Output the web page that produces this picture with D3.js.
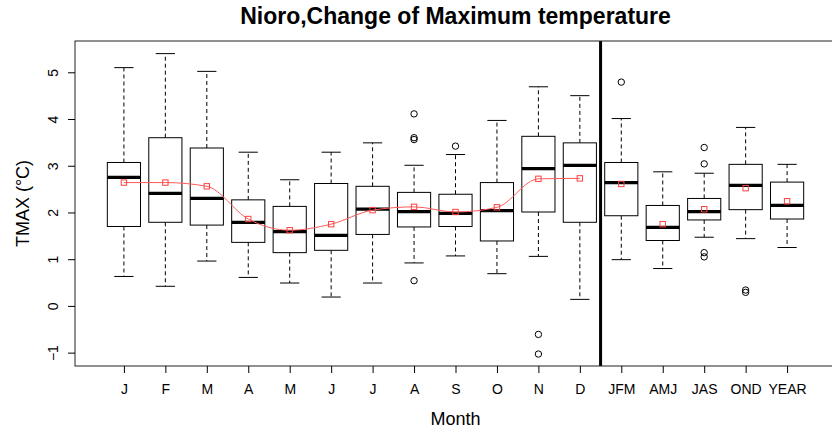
<!DOCTYPE html>
<html>
<head>
<meta charset="utf-8">
<script src="https://cdn.jsdelivr.net/npm/d3@7"></script>
<style>
  body { margin: 0; background: #fff; }
  text { font-family: "Liberation Sans", Arial, sans-serif; fill: #000; }
</style>
</head>
<body>
<script>
// chart values
const labels   = ['J','F','M','A','M','J','J','A','S','O','N','D','JFM','AMJ','JAS','OND','YEAR']
const whiskLo  = [0.63,0.42,0.96,0.61,0.49,0.19,0.49,0.92,1.07,0.69,1.06,0.14,0.99,0.80,1.47,1.44,1.25]
const q1       = [1.70,1.79,1.73,1.36,1.14,1.19,1.53,1.69,1.70,1.39,2.01,1.79,1.93,1.40,1.84,2.06,1.86]
const medians  = [2.75,2.41,2.30,1.79,1.59,1.51,2.07,2.02,1.98,2.04,2.94,3.01,2.64,1.68,2.02,2.58,2.15]
const q3       = [3.07,3.60,3.38,2.27,2.13,2.62,2.56,2.43,2.39,2.64,3.63,3.49,3.07,2.15,2.30,3.03,2.65]
const whiskHi  = [5.10,5.40,5.02,3.29,2.70,3.29,3.49,3.01,3.24,3.97,4.69,4.50,4.01,2.87,2.84,3.82,3.03]
const means    = [2.64,2.64,2.56,1.86,1.62,1.75,2.05,2.12,2.01,2.11,2.72,2.73,2.61,1.75,2.07,2.52,2.24]
const outliers = [[],[],[],[],[],[],[],[4.11,3.60,3.56,0.54],[3.42],[],[-0.61,-1.03],[],
                  [4.79],[],[3.39,3.04,1.14,1.05],[0.34,0.29],[]]
const yTicks   = [-1,0,1,2,3,4,5]

const W = 832, H = 431
const frame = { left: 75, right: 836, top: 41, bottom: 366 }

const svg = d3.select('body').append('svg')
  .attr('width', W)
  .attr('height', H)

const x = d3.scaleLinear().domain([-0.18, 18.18]).range([frame.left, frame.right])
const y = d3.scaleLinear().domain([-1.286, 5.67]).range([frame.bottom, frame.top])

const boxW = (x(1) - x(0)) * 0.8
const capW = boxW * 0.58

const boxes = labels.map((l, i) => ({
  i: i + 1, lo: whiskLo[i], q1: q1[i], med: medians[i], q3: q3[i], hi: whiskHi[i], mean: means[i]
}))

// whiskers (dashed)
const g = svg.append('g')
g.selectAll('.whisk-up').data(boxes).join('line')
  .attr('x1', d => x(d.i)).attr('x2', d => x(d.i))
  .attr('y1', d => y(d.q3)).attr('y2', d => y(d.hi))
  .attr('stroke', '#000').attr('stroke-dasharray', '4,3')
g.selectAll('.whisk-dn').data(boxes).join('line')
  .attr('x1', d => x(d.i)).attr('x2', d => x(d.i))
  .attr('y1', d => y(d.q1)).attr('y2', d => y(d.lo))
  .attr('stroke', '#000').attr('stroke-dasharray', '4,3')

// caps
g.selectAll('.cap-hi').data(boxes).join('line')
  .attr('x1', d => x(d.i) - capW / 2).attr('x2', d => x(d.i) + capW / 2)
  .attr('y1', d => y(d.hi)).attr('y2', d => y(d.hi))
  .attr('stroke', '#000')
g.selectAll('.cap-lo').data(boxes).join('line')
  .attr('x1', d => x(d.i) - capW / 2).attr('x2', d => x(d.i) + capW / 2)
  .attr('y1', d => y(d.lo)).attr('y2', d => y(d.lo))
  .attr('stroke', '#000')

// boxes
g.selectAll('.box').data(boxes).join('rect')
  .attr('x', d => x(d.i) - boxW / 2)
  .attr('width', boxW)
  .attr('y', d => y(d.q3))
  .attr('height', d => y(d.q1) - y(d.q3))
  .attr('fill', '#fff')
  .attr('stroke', '#000')

// medians
g.selectAll('.med').data(boxes).join('line')
  .attr('x1', d => x(d.i) - boxW / 2).attr('x2', d => x(d.i) + boxW / 2)
  .attr('y1', d => y(d.med)).attr('y2', d => y(d.med))
  .attr('stroke', '#000').attr('stroke-width', 3.3)

// outliers
const outPts = []
outliers.forEach((arr, i) => arr.forEach(v => outPts.push({ i: i + 1, v })))
g.selectAll('.out').data(outPts).join('circle')
  .attr('cx', d => x(d.i)).attr('cy', d => y(d.v))
  .attr('r', 3.2)
  .attr('fill', 'none').attr('stroke', '#000')

// monthly mean line
const line = d3.line()
  .x(d => x(d.i)).y(d => y(d.mean))
  .curve(d3.curveMonotoneX)
g.append('path')
  .datum(boxes.slice(0, 12))
  .attr('d', line)
  .attr('fill', 'none')
  .attr('stroke', '#ff5a5a')
  .attr('stroke-width', 1)

// mean squares
g.selectAll('.mean').data(boxes).join('rect')
  .attr('x', d => x(d.i) - 2.7).attr('y', d => y(d.mean) - 2.7)
  .attr('width', 5.4).attr('height', 5.4)
  .attr('fill', 'none').attr('stroke', '#ff4040')

// separator between months and seasons
svg.append('line')
  .attr('x1', x(12.5)).attr('x2', x(12.5))
  .attr('y1', frame.top).attr('y2', frame.bottom)
  .attr('stroke', '#000').attr('stroke-width', 3)

// plot frame
svg.append('rect')
  .attr('x', frame.left).attr('y', frame.top)
  .attr('width', frame.right - frame.left)
  .attr('height', frame.bottom - frame.top)
  .attr('fill', 'none').attr('stroke', '#222')

// axes
const xAxis = svg.append('g')
  .attr('transform', `translate(0,${frame.bottom})`)
  .call(d3.axisBottom(x).tickValues(d3.range(1, 18)).tickFormat(d => labels[d - 1]).tickSize(7))
xAxis.select('.domain').remove()
xAxis.selectAll('text')
  .attr('y', 28).attr('dy', 0)
  .style('font-size', '14px')
  .style('font-family', '"Liberation Sans", Arial, sans-serif')

const yAxis = svg.append('g')
  .attr('transform', `translate(${frame.left},0)`)
  .call(d3.axisLeft(y).tickValues(yTicks).tickFormat(d => d < 0 ? '\u2212' + Math.abs(d) : d).tickSize(7))
yAxis.select('.domain').remove()
yAxis.selectAll('text')
  .attr('transform', 'rotate(-90)')
  .attr('x', 0).attr('y', -17).attr('dy', 0)
  .style('text-anchor', 'middle')
  .style('font-size', '14px')
  .style('font-family', '"Liberation Sans", Arial, sans-serif')

// titles
svg.append('text')
  .attr('x', (frame.left + frame.right) / 2).attr('y', 24)
  .attr('text-anchor', 'middle')
  .style('font-size', '23px').style('font-weight', 'bold')
  .text('Nioro,Change of Maximum temperature')

svg.append('text')
  .attr('x', (frame.left + frame.right) / 2).attr('y', 425)
  .attr('text-anchor', 'middle')
  .style('font-size', '18px')
  .text('Month')

svg.append('text')
  .attr('transform', `translate(29,${(frame.top + frame.bottom) / 2}) rotate(-90)`)
  .attr('text-anchor', 'middle')
  .style('font-size', '18px')
  .text('TMAX (°C)')
</script>
</body>
</html>
